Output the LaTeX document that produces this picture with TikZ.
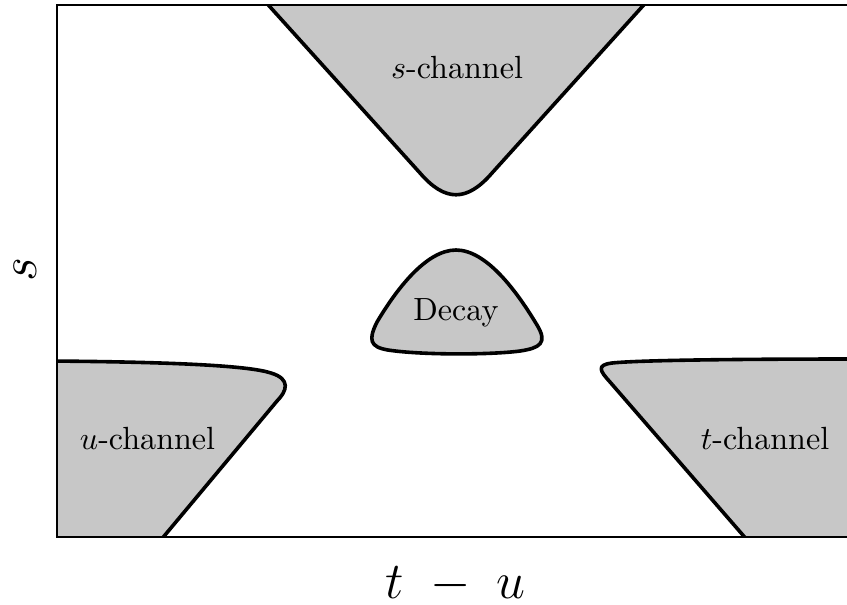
\RequirePackage{fix-cm}
\documentclass[tikz,border=0pt]{standalone}
\usepackage{tikz}
\usetikzlibrary{positioning}
\definecolor{regiongray}{RGB}{199,199,199}

\begin{document}
\begin{tikzpicture}[x=0.33333pt, y=-0.33333pt,
    every node/.style={font=\fontsize{10.7}{13}\selectfont, inner sep=0pt},
    region/.style={fill=regiongray, draw=black, line width=1.2pt, line join=round},
    axisLabel/.style={font=\LARGE}]

\useasboundingbox (0,0) rectangle (847,604);

\begin{scope}
\clip (57,5) rectangle (849,537);

% s-channel (top)
\filldraw[region] (262,-2) -- (420,173) .. controls (445,202) and (467,202) .. (492,173)
    -- (650,-2) -- cycle;

% u-channel (bottom left)
\filldraw[region] (50,361) .. controls (180,362) and (250,366) .. (271,373)
    .. controls (291,379) and (287,391) .. (277,401) -- (160,541)
    -- (50,545) -- cycle;

% t-channel (bottom right)
\filldraw[region] (856,359) -- (850,359) .. controls (750,359) and (640,360) .. (612,363)
    .. controls (596,365) and (600,371) .. (610,382) -- (748,541)
    -- (856,545) -- cycle;

% decay region (centre)
\filldraw[region] (456,250) .. controls (486,250) and (516,290) .. (537,325)
    .. controls (548,343) and (540,348) .. (520,351)
    .. controls (490,355) and (420,355) .. (388,350)
    .. controls (370,347) and (368,340) .. (377,322)
    .. controls (396,290) and (426,250) .. (456,250) -- cycle;
\end{scope}

% frame
\draw[line width=0.6pt] (57,5) rectangle (849,537);

% labels
\node[anchor=base] (sLabel) at (457,78) {$s$-channel};
\node[anchor=base] (decayLabel) at (456,320) {Decay};
\node[anchor=base] (uLabel) at (147.5,449) {$u$-channel};
\node[anchor=base] (tLabel) at (765,449) {$t$-channel};

% axes
\node[axisLabel, anchor=base] (xLabel) at (455.5,598) {$t\;-\;u$};
\node[axisLabel, rotate=90] (yLabel) at (25,270) {$s$};

\end{tikzpicture}
\end{document}
